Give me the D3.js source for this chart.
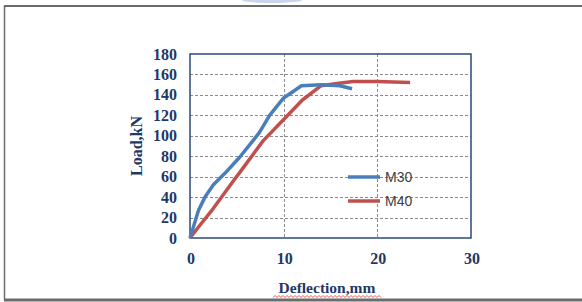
<!DOCTYPE html>
<html>
<head>
<meta charset="utf-8">
<script src="https://cdn.jsdelivr.net/npm/d3@7"></script>
<style>
  body { margin: 0; background: #fff; }
  svg { display: block; }
</style>
</head>
<body>
<svg id="chart"></svg>
<script>
var width = 582;
var height = 302;

// load-deflection curves
var seriesNames = ["M30", "M40"];
var m30Deflection = [0, 0.9, 1.6, 2.5, 3.7, 5.3, 7.4, 8.5, 10, 11.9, 14, 16, 17.3];
var m30Load       = [0, 27, 40, 52, 63, 79, 103, 120, 137, 149, 150, 149, 146];
var m40Deflection = [0, 1.1, 2.5, 3.2, 4.8, 5.3, 7.8, 10, 12, 14, 15.5, 17.4, 20, 23.5];
var m40Load       = [0, 13, 29, 38, 58, 64, 95, 116, 135, 149, 151, 153, 153, 152];
var xTicks = [0, 10, 20, 30];
var yTicks = [0, 20, 40, 60, 80, 100, 120, 140, 160, 180];

var colors = {"M30": "#4a7ebb", "M40": "#c0504d"};
var navy = "#1f3864";

var svg = d3.select("#chart")
  .attr("width", width)
  .attr("height", height);

// outer frame of the page figure
svg.append("line").attr("x1", 4).attr("x2", width).attr("y1", 6).attr("y2", 6)
  .attr("stroke", "#6b6b6b").attr("stroke-width", 2);
svg.append("line").attr("x1", 4.5).attr("x2", 4.5).attr("y1", 6).attr("y2", 300)
  .attr("stroke", "#6b6b6b").attr("stroke-width", 1.5);
svg.append("line").attr("x1", 4).attr("x2", width).attr("y1", 300).attr("y2", 300)
  .attr("stroke", "#6b6b6b").attr("stroke-width", 3);
// faint blue smear at the top edge
svg.append("ellipse").attr("cx", 272).attr("cy", 0).attr("rx", 30).attr("ry", 3)
  .attr("fill", "#c9d3ea");

var plot = {left: 190, top: 54, right: 471, bottom: 238};

var x = d3.scaleLinear().domain([0, 30]).range([plot.left, plot.right]);
var y = d3.scaleLinear().domain([0, 180]).range([plot.bottom, plot.top]);

// grid
var g = svg.append("g");
g.selectAll(".hgrid").data(yTicks.slice(1, -1)).enter().append("line")
  .attr("x1", plot.left).attr("x2", plot.right)
  .attr("y1", function(d) { return Math.round(y(d)) + 0.5; })
  .attr("y2", function(d) { return Math.round(y(d)) + 0.5; })
  .attr("stroke", "#8a8a8a").attr("stroke-width", 1).attr("stroke-dasharray", "3,2");
g.selectAll(".vgrid").data(xTicks.slice(1, -1)).enter().append("line")
  .attr("x1", function(d) { return Math.round(x(d)) + 0.5; })
  .attr("x2", function(d) { return Math.round(x(d)) + 0.5; })
  .attr("y1", plot.top).attr("y2", plot.bottom)
  .attr("stroke", "#8a8a8a").attr("stroke-width", 1).attr("stroke-dasharray", "3,2");

// plot frame
svg.append("rect")
  .attr("x", plot.left).attr("y", plot.top)
  .attr("width", plot.right - plot.left).attr("height", plot.bottom - plot.top)
  .attr("fill", "none").attr("stroke", "#2b4a78").attr("stroke-width", 1.5);

// curves
var line = d3.line()
  .x(function(d) { return x(d[0]); })
  .y(function(d) { return y(d[1]); });

var data = {
  "M30": d3.zip(m30Deflection, m30Load),
  "M40": d3.zip(m40Deflection, m40Load)
};

["M40", "M30"].forEach(function(name) {
  svg.append("path")
    .datum(data[name])
    .attr("d", line)
    .attr("fill", "none")
    .attr("stroke", colors[name])
    .attr("stroke-width", 3.5)
    .attr("stroke-linejoin", "round");
});

// tick labels
svg.selectAll(".ylab").data(yTicks).enter().append("text")
  .attr("x", 177)
  .attr("y", function(d) { return y(d) + 5.5; })
  .attr("text-anchor", "end")
  .attr("font-family", "Liberation Serif, serif")
  .attr("font-weight", "bold")
  .attr("font-size", 16)
  .attr("fill", navy)
  .text(function(d) { return d; });

svg.selectAll(".xlab").data(xTicks).enter().append("text")
  .attr("x", function(d) { return x(d) + 1; })
  .attr("y", 264)
  .attr("text-anchor", "middle")
  .attr("font-family", "Liberation Serif, serif")
  .attr("font-weight", "bold")
  .attr("font-size", 16)
  .attr("fill", navy)
  .text(function(d) { return d; });

// axis titles
svg.append("text")
  .attr("transform", "translate(142,146) rotate(-90)")
  .attr("text-anchor", "middle")
  .attr("font-family", "Liberation Serif, serif")
  .attr("font-weight", "bold")
  .attr("font-size", 16)
  .attr("fill", navy)
  .text("Load,kN");

svg.append("text")
  .attr("x", 327).attr("y", 293)
  .attr("text-anchor", "middle")
  .attr("font-family", "Liberation Serif, serif")
  .attr("font-weight", "bold")
  .attr("font-size", 15.5)
  .attr("fill", navy)
  .text("Deflection,mm");

// spell-check squiggle under the x title
var squiggle = d3.range(273, 382, 2).map(function(px, i) { return [px, i % 2 ? 295.5 : 297.5]; });
svg.append("path")
  .attr("d", d3.line()(squiggle))
  .attr("fill", "none").attr("stroke", "#e03030").attr("stroke-width", 0.8);

// legend
var legend = svg.selectAll(".legend").data(seriesNames).enter().append("g")
  .attr("transform", function(d, i) { return "translate(348," + (177 + i * 24) + ")"; });
legend.append("line")
  .attr("x1", 0).attr("x2", 32).attr("y1", 0).attr("y2", 0)
  .attr("stroke", function(d) { return colors[d]; })
  .attr("stroke-width", 3.5);
legend.append("text")
  .attr("x", 37).attr("y", 5)
  .attr("font-family", "Liberation Sans, sans-serif")
  .attr("font-size", 14)
  .attr("fill", "#404040")
  .text(function(d) { return d; });
</script>
</body>
</html>
